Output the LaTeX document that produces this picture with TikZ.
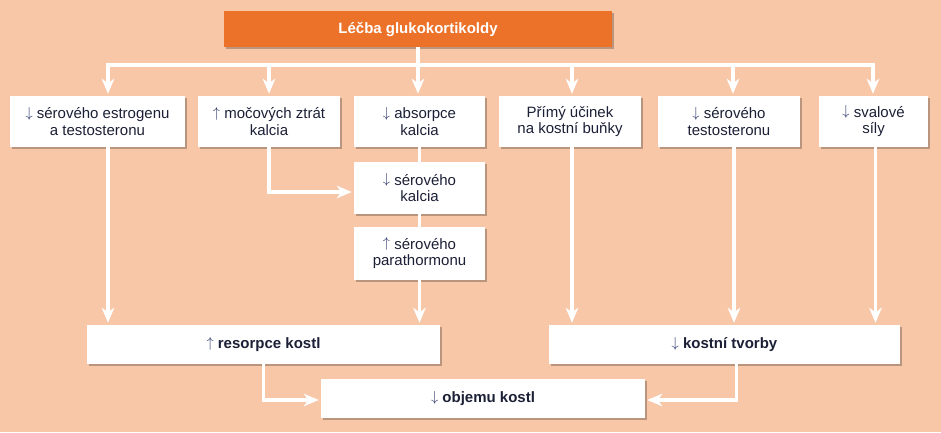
\documentclass[tikz,border=0pt]{standalone}
\usepackage{fontspec}
\setmainfont{Liberation Sans}
\usepackage{tikz}
\usetikzlibrary{positioning, shadows, arrows.meta, calc}
\definecolor{pozadi}{HTML}{F7C7A8}
\definecolor{oranz}{HTML}{EC7229}
\definecolor{textc}{HTML}{1C2036}
\definecolor{sipka}{HTML}{2A3468}
\newcommand{\dolu}{\raisebox{1.5pt}{\textcolor{sipka}{$\downarrow$}}}
\newcommand{\nahoru}{\raisebox{1.5pt}{\textcolor{sipka}{$\uparrow$}}}

\begin{document}
\begin{tikzpicture}[x=1pt, y=-1pt,
	box/.style={fill=white, align=center, text=textc, inner sep=0pt,
		font=\fontsize{15}{16.5}\selectfont,
		drop shadow={shadow xshift=2pt, shadow yshift=-2pt, opacity=0.25, fill=black}},
	radek/.style={box, minimum height=51pt},
	dolni/.style={box, minimum height=39pt, font=\bfseries\fontsize{15}{16.5}\selectfont},
	spoj/.style={draw=white, line width=3.8pt},
	sip/.style={spoj, -{Stealth[length=15pt, width=12.5pt, inset=4.5pt]}, shorten >=2pt}]
	
		\fill[pozadi] (0,0) rectangle (941,432);
		
		\node[box, fill=oranz, text=white, font=\bfseries\fontsize{15}{16}\selectfont,
			minimum width=388pt, minimum height=36pt] (lecba) at (418,29) {Léčba glukokortikoldy};
		
		\node[radek, minimum width=175pt] (estrogen) at (97.5,121.5) {\dolu{} sérového estrogenu\\a testosteronu};
		\node[radek, minimum width=142pt] (mocztrat) at (269,121.5) {\nahoru{} močových ztrát\\kalcia};
		\node[radek, minimum width=131pt] (absorpce) at (419.5,121.5) {\dolu{} absorpce\\kalcia};
		\node[radek, minimum width=142pt] (primy) at (570,121.5) {Přímý účinek\\na kostní buňky};
		\node[radek, minimum width=142pt] (testost) at (729,121.5) {\dolu{} sérového\\testosteronu};
		\node[radek, minimum width=109pt] (svaly) at (873.5,121.5) {\dolu{} svalové\\síly};
		
		\node[box, minimum width=131pt, minimum height=52pt] (kalcium) at (419.5,188) {\dolu{} sérového\\kalcia};
		\node[box, minimum width=131pt, minimum height=53pt] (pth) at (419.5,253.5) {\nahoru{} sérového\\parathormonu};
		
		\node[dolni, minimum width=353pt] (resorpce) at (263.5,344.5) {\nahoru{} resorpce kostl};
		\node[dolni, minimum width=351pt] (tvorba) at (724.5,344.5) {\dolu{} kostní tvorby};
		\node[dolni, minimum width=324pt] (objem) at (483,398.5) {\dolu{} objemu kostl};
		
		% rozvod od lecby
		\coordinate (rozvod) at (418,65);
		\coordinate (busL) at (108,65);
		\coordinate (busR) at (873,65);
		\draw[spoj] (lecba.south) -- (rozvod);
		\draw[spoj, line cap=rect] (busL) -- (busR);
		
		\draw[sip] (busL) -- (busL |- estrogen.north);
		\draw[sip] (mocztrat.north |- rozvod) -- (mocztrat.north);
		\draw[sip] (rozvod) -- (rozvod |- absorpce.north);
		\draw[sip] ([xshift=2pt]primy.north |- rozvod) -- ([xshift=2pt]primy.north);
		\draw[sip] ([xshift=4pt]testost.north |- rozvod) -- ([xshift=4pt]testost.north);
		\draw[sip] (busR) -- (busR |- svaly.north);
		
		% kalcium
		\draw[sip] (mocztrat.south) |- ([yshift=-4pt]kalcium.west);
		\draw[spoj] (absorpce.south) -- (kalcium.north);
		\draw[spoj] (kalcium.south) -- (pth.north);
		
		% do resorpce a tvorby
		\draw[sip] (busL |- estrogen.south) -- (busL |- resorpce.north);
		\draw[sip] (pth.south) -- (pth.south |- resorpce.north);
		\draw[sip] ([xshift=2pt]primy.south) -- ([xshift=2pt]primy.south |- tvorba.north);
		\draw[sip] ([xshift=5pt]testost.south) -- ([xshift=5pt]testost.south |- tvorba.north);
		\draw[sip] ([xshift=2pt]svaly.south) -- ([xshift=2pt]svaly.south |- tvorba.north);
		
		% do objemu
		\draw[sip] (resorpce.south) |- ([yshift=-1.5pt]objem.west);
		\draw[sip] ([xshift=12pt]tvorba.south) |- ([yshift=-1.5pt]objem.east);
		
	\end{tikzpicture}
\end{document}
